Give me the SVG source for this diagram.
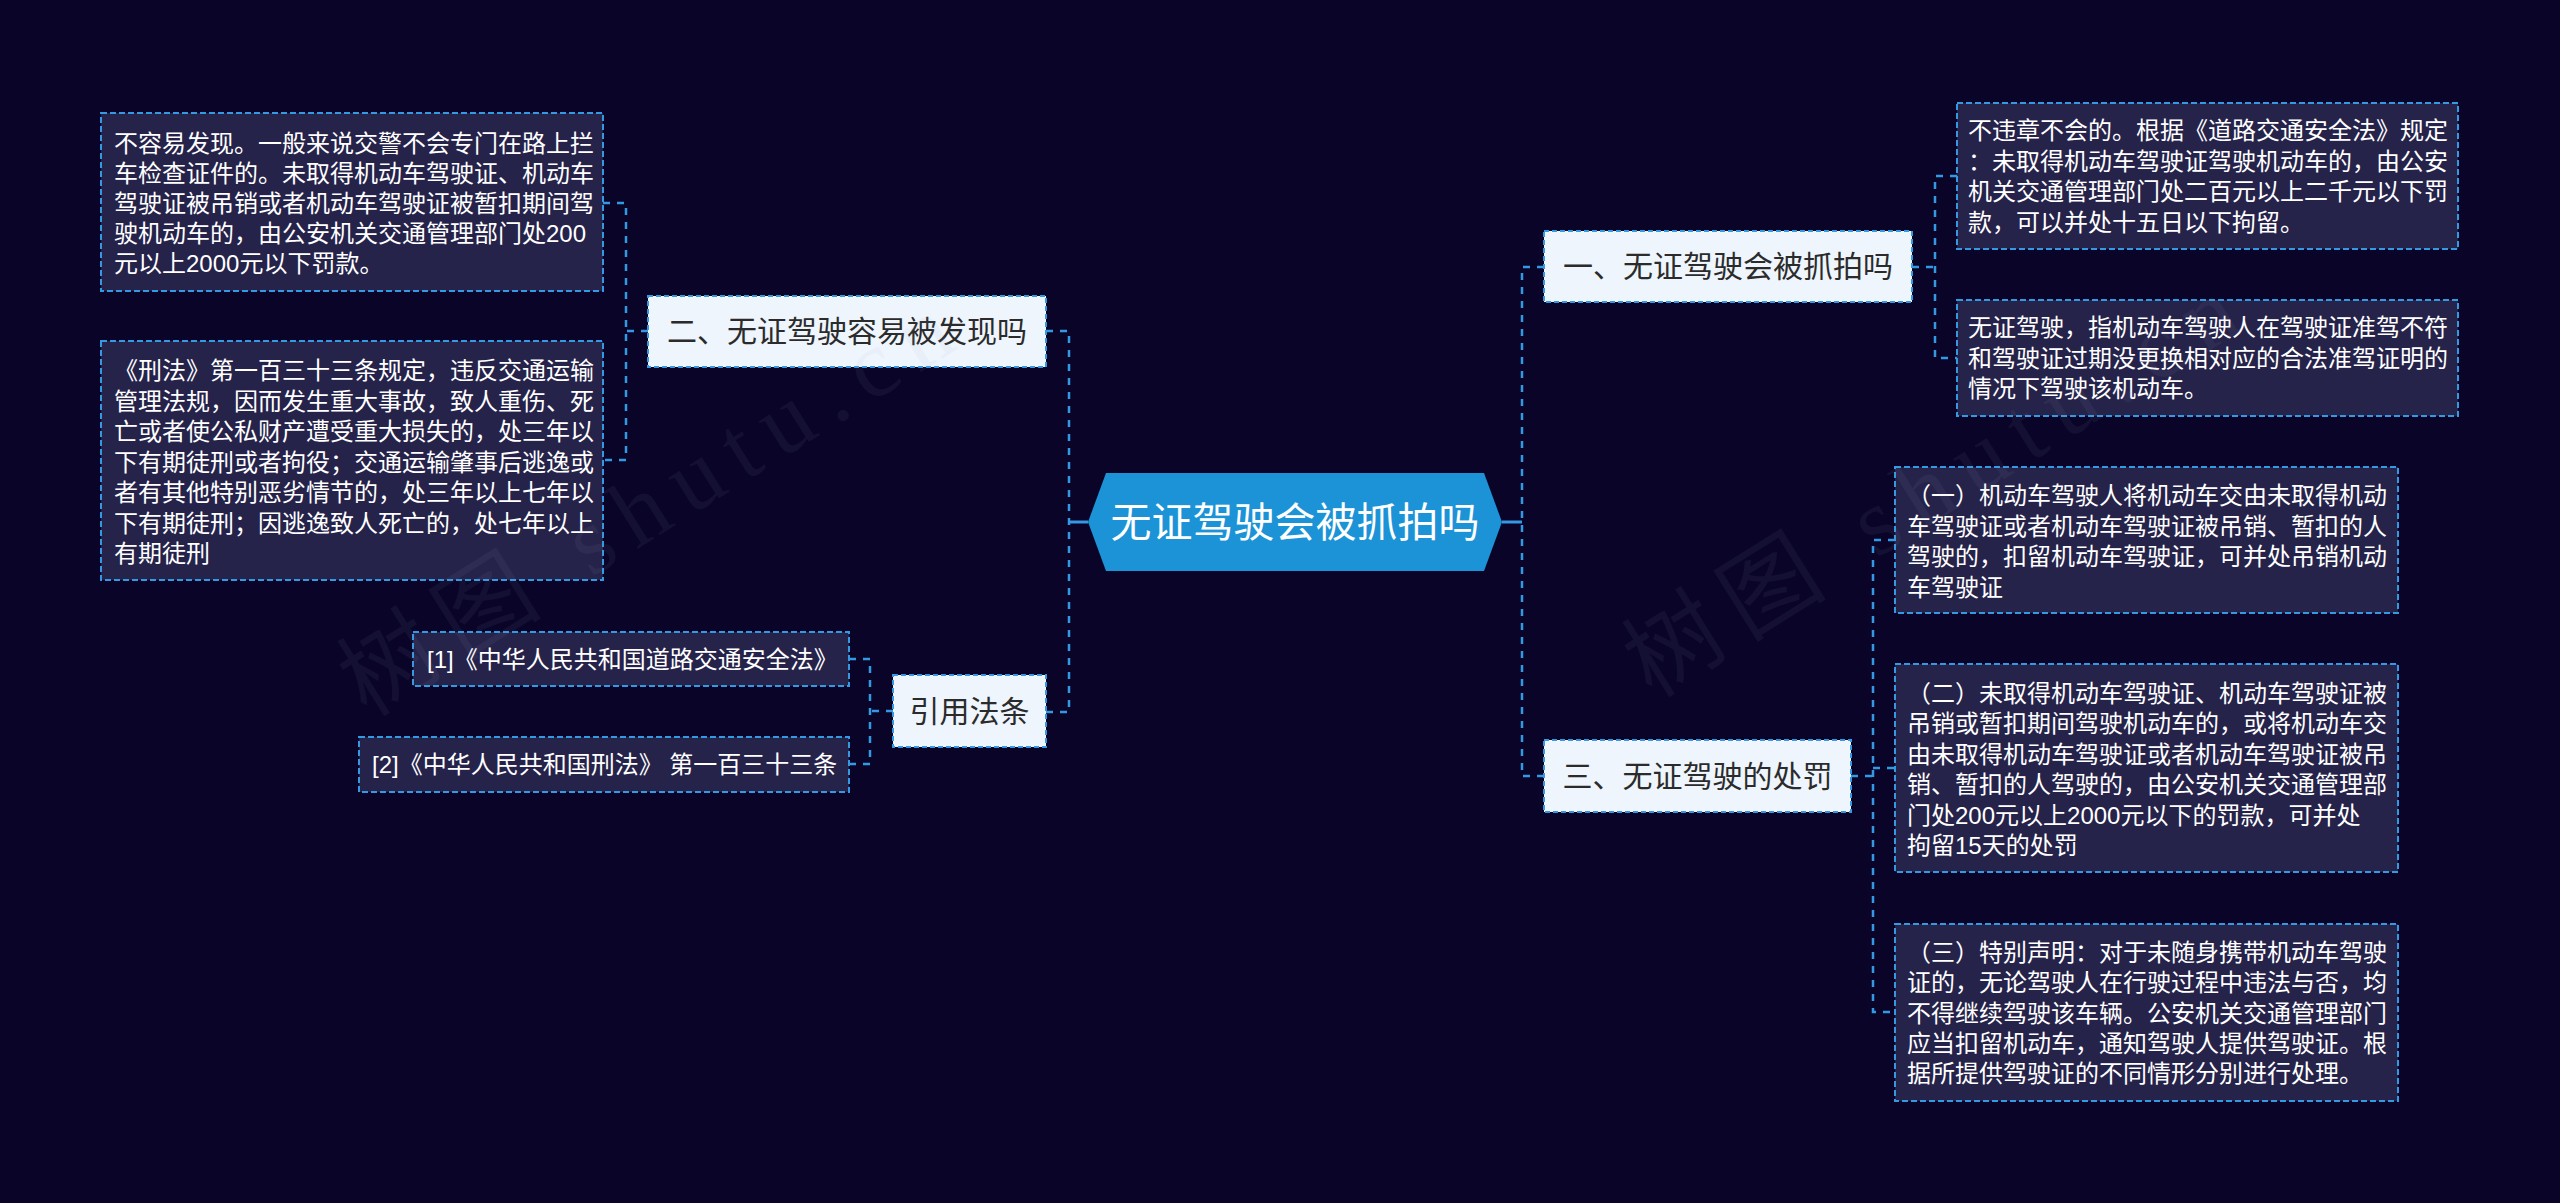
<svg xmlns="http://www.w3.org/2000/svg" width="2560" height="1203" viewBox="0 0 2560 1203">
<style>
.bg{fill:#0a0528}
.box{fill:#26234b;stroke:#3399e3;stroke-width:2;stroke-dasharray:6 3}
.node{fill:#eef5fd;stroke:#3399e3;stroke-width:2;stroke-dasharray:5 3}
.t{font-family:"Liberation Sans","Noto Sans CJK SC",sans-serif;font-size:24px;fill:#ffffff}
.nt{font-family:"Liberation Sans","Noto Sans CJK SC",sans-serif;font-size:30px;fill:#2b2b2b;text-anchor:middle}
.ct{font-family:"Liberation Sans","Noto Sans CJK SC",sans-serif;font-size:41px;fill:#ffffff;text-anchor:middle}
.c{fill:none;stroke:#3399e3;stroke-width:2.5;stroke-dasharray:7 7}
.cs{fill:none;stroke:#3399e3;stroke-width:3}
.wm{font-family:"Liberation Serif","Noto Sans CJK SC",serif;font-size:96px;fill:#a0a4c8;fill-opacity:0.07;letter-spacing:16px}
</style>
<rect class="bg" x="0" y="0" width="2560" height="1203"/>

<g id="connectors">
  <path class="cs" d="M1088,522 H1069"/>
  <path class="c" d="M1046,331 H1069 V712 H1046"/>
  <path class="c" d="M648,331 H626"/>
  <path class="c" d="M603,203 H626 V460 H603"/>
  <path class="c" d="M893,711 H870"/>
  <path class="c" d="M849,659 H870 V764 H849"/>
  <path class="cs" d="M1502,522 H1522"/>
  <path class="c" d="M1544,267 H1522 V776 H1544"/>
  <path class="c" d="M1912,267 H1935"/>
  <path class="c" d="M1957,176 H1935 V358 H1957"/>
  <path class="c" d="M1851,776 H1873"/>
  <path class="c" d="M1895,540 H1873 V1012 H1895"/>
  <path class="c" d="M1873,768 H1895"/>
</g>

<g id="center">
  <polygon points="1088,522 1106,473 1484,473 1502,522 1484,571 1106,571" fill="#1b93d6"/>
  <text class="ct" x="1295" y="537">无证驾驶会被抓拍吗</text>
</g>

<g id="node-2">
  <rect class="node" x="648" y="296" width="398" height="71"/>
  <text class="nt" x="847" y="342">二、无证驾驶容易被发现吗</text>
</g>
<g id="box-2a">
  <rect class="box" x="101" y="113" width="502" height="178"/>
  <text class="t" x="114" y="152">不容易发现。一般来说交警不会专门在路上拦</text>
  <text class="t" x="114" y="182">车检查证件的。未取得机动车驾驶证、机动车</text>
  <text class="t" x="114" y="212">驾驶证被吊销或者机动车驾驶证被暂扣期间驾</text>
  <text class="t" x="114" y="242">驶机动车的，由公安机关交通管理部门处200</text>
  <text class="t" x="114" y="272">元以上2000元以下罚款。</text>
</g>
<g id="box-2b">
  <rect class="box" x="101" y="341" width="502" height="239"/>
  <text class="t" x="114" y="379">《刑法》第一百三十三条规定，违反交通运输</text>
  <text class="t" x="114" y="409.5">管理法规，因而发生重大事故，致人重伤、死</text>
  <text class="t" x="114" y="440">亡或者使公私财产遭受重大损失的，处三年以</text>
  <text class="t" x="114" y="470.5">下有期徒刑或者拘役；交通运输肇事后逃逸或</text>
  <text class="t" x="114" y="501">者有其他特别恶劣情节的，处三年以上七年以</text>
  <text class="t" x="114" y="531.5">下有期徒刑；因逃逸致人死亡的，处七年以上</text>
  <text class="t" x="114" y="562">有期徒刑</text>
</g>

<g id="node-ref">
  <rect class="node" x="893" y="675" width="153" height="72"/>
  <text class="nt" x="969.5" y="722">引用法条</text>
</g>
<g id="ref-1">
  <rect class="box" x="413" y="632" width="436" height="54"/>
  <text class="t" x="427" y="668">[1]《中华人民共和国道路交通安全法》</text>
</g>
<g id="ref-2">
  <rect class="box" x="359" y="737" width="490" height="55"/>
  <text class="t" x="372" y="773">[2]《中华人民共和国刑法》 第一百三十三条</text>
</g>

<g id="node-1">
  <rect class="node" x="1544" y="231" width="368" height="71"/>
  <text class="nt" x="1728" y="277">一、无证驾驶会被抓拍吗</text>
</g>
<g id="box-1a">
  <rect class="box" x="1957" y="103" width="501" height="146"/>
  <text class="t" x="1968" y="139">不违章不会的。根据《道路交通安全法》规定</text>
  <text class="t" x="1968" y="169.5">：未取得机动车驾驶证驾驶机动车的，由公安</text>
  <text class="t" x="1968" y="200">机关交通管理部门处二百元以上二千元以下罚</text>
  <text class="t" x="1968" y="230.5">款，可以并处十五日以下拘留。</text>
</g>
<g id="box-1b">
  <rect class="box" x="1957" y="300" width="501" height="116"/>
  <text class="t" x="1968" y="336">无证驾驶，指机动车驾驶人在驾驶证准驾不符</text>
  <text class="t" x="1968" y="366.5">和驾驶证过期没更换相对应的合法准驾证明的</text>
  <text class="t" x="1968" y="397">情况下驾驶该机动车。</text>
</g>

<g id="node-3">
  <rect class="node" x="1544" y="740" width="307" height="72"/>
  <text class="nt" x="1697.5" y="787">三、无证驾驶的处罚</text>
</g>
<g id="box-3a">
  <rect class="box" x="1895" y="467" width="503" height="146"/>
  <text class="t" x="1907" y="504">（一）机动车驾驶人将机动车交由未取得机动</text>
  <text class="t" x="1907" y="534.5">车驾驶证或者机动车驾驶证被吊销、暂扣的人</text>
  <text class="t" x="1907" y="565">驾驶的，扣留机动车驾驶证，可并处吊销机动</text>
  <text class="t" x="1907" y="595.5">车驾驶证</text>
</g>
<g id="box-3b">
  <rect class="box" x="1895" y="664" width="503" height="208"/>
  <text class="t" x="1907" y="702">（二）未取得机动车驾驶证、机动车驾驶证被</text>
  <text class="t" x="1907" y="732.4">吊销或暂扣期间驾驶机动车的，或将机动车交</text>
  <text class="t" x="1907" y="762.8">由未取得机动车驾驶证或者机动车驾驶证被吊</text>
  <text class="t" x="1907" y="793.2">销、暂扣的人驾驶的，由公安机关交通管理部</text>
  <text class="t" x="1907" y="823.6">门处200元以上2000元以下的罚款，可并处</text>
  <text class="t" x="1907" y="854">拘留15天的处罚</text>
</g>
<g id="box-3c">
  <rect class="box" x="1895" y="924" width="503" height="177"/>
  <text class="t" x="1907" y="961">（三）特别声明：对于未随身携带机动车驾驶</text>
  <text class="t" x="1907" y="991.3">证的，无论驾驶人在行驶过程中违法与否，均</text>
  <text class="t" x="1907" y="1021.6">不得继续驾驶该车辆。公安机关交通管理部门</text>
  <text class="t" x="1907" y="1051.9">应当扣留机动车，通知驾驶人提供驾驶证。根</text>
  <text class="t" x="1907" y="1082.2">据所提供驾驶证的不同情形分别进行处理。</text>
</g>

<g id="watermark">
  <text class="wm" transform="translate(367,718) rotate(-32)">树图 shutu.cn</text>
  <text class="wm" transform="translate(1652,699) rotate(-32)">树图 shutu.cn</text>
</g>
</svg>
